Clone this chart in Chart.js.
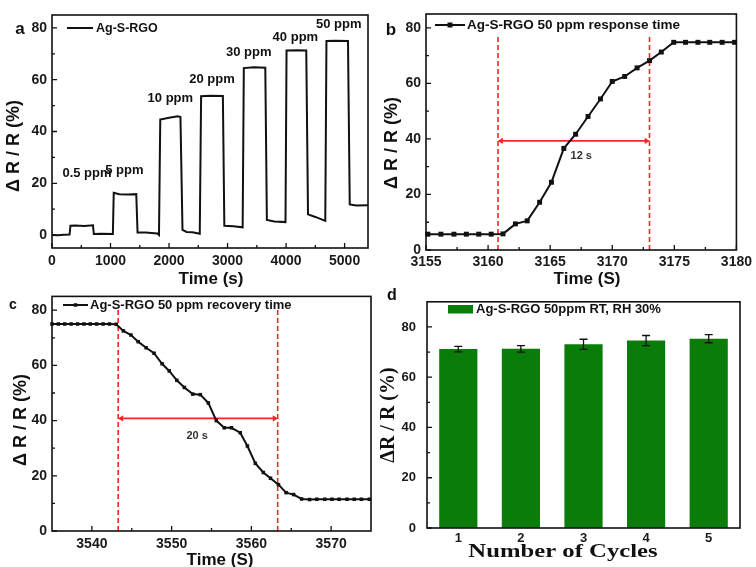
<!DOCTYPE html>
<html>
<head>
<meta charset="utf-8">
<script src="https://cdn.jsdelivr.net/npm/chart.js@4.4.1/dist/chart.umd.min.js"></script>
<style>
    html, body { margin: 0; padding: 0; background: #fff; }
    #fig { position: relative; width: 756px; height: 567px; overflow: hidden; }
    #fig canvas { position: absolute; }
</style>
</head>
<body>
<div id="fig">
    <canvas id="panelA" width="378" height="292" style="left:0;top:0"></canvas>
    <canvas id="panelB" width="378" height="292" style="left:378px;top:0"></canvas>
    <canvas id="panelC" width="378" height="284" style="left:0;top:283px"></canvas>
    <canvas id="panelD" width="378" height="284" style="left:378px;top:283px"></canvas>
</div>
<script>
// === DATEN ===
// (a) Ansprechverhalten bei steigender Konzentration
const aTime = [0, 100, 200, 300, 315, 400, 550, 700, 715, 850, 1040, 1055, 1150, 1300, 1440, 1462, 1600,
    1800, 1828, 1850, 2000, 2150, 2195, 2230, 2300, 2400, 2525, 2548, 2700, 2920, 2945, 3100, 3258,
    3278, 3450, 3645, 3672, 3800, 3990, 4008, 4200, 4345, 4375, 4500, 4670, 4690, 4850, 5058, 5088,
    5200, 5400];
const aResponse = [0.0, -0.1, 0.1, 0.2, 3.6, 3.7, 3.5, 3.8, 0.4, 0.5, 0.4, 16.3, 15.8, 15.7, 15.8, 1.0, 1.0,
    0.6, 0.0, 44.6, 45.3, 45.9, 45.6, 2.0, 1.2, 1.1, 0.5, 53.6, 53.8, 53.7, 3.6, 3.4, 3.0,
    64.5, 64.8, 64.6, 5.8, 5.2, 5.0, 71.3, 71.4, 71.3, 8.0, 7.0, 5.5, 75.0, 75.1, 75.0, 11.8,
    11.4, 11.5];
const aConcLabels = ['0.5 ppm', '5 ppm', '10 ppm', '20 ppm', '30 ppm', '40 ppm', '50 ppm'];
const aTicksX = [0, 1000, 2000, 3000, 4000, 5000];
const aTicksY = [0, 20, 40, 60, 80];

// (b) Ansprechzeit 50 ppm
const bTime = [3155.15, 3156.2, 3157.25, 3158.25, 3159.25, 3160.25, 3161.2, 3162.2, 3163.15, 3164.15,
    3165.1, 3166.1, 3167.05, 3168.05, 3169.05, 3170.0, 3171.0, 3172.0, 3173.0, 3173.95, 3174.95,
    3175.9, 3176.9, 3177.85, 3178.85, 3179.85];
const bResponse = [5.7, 5.7, 5.7, 5.7, 5.7, 5.7, 5.8, 9.4, 10.5, 17.2, 24.4, 36.6, 41.7, 48.1, 54.4,
    60.7, 62.5, 65.6, 68.2, 71.3, 74.8, 74.8, 74.8, 74.8, 74.8, 74.8];
const bWindow = [3160.8, 3173.0];
const bTicksX = [3155, 3160, 3165, 3170, 3175, 3180];
const bTicksY = [0, 20, 40, 60, 80];

// (c) Erholzeit 50 ppm
const cTime = [3535.0, 3535.8, 3536.6, 3537.4, 3538.2, 3539.0, 3539.8, 3540.6, 3541.4, 3542.2,
    3543.05, 3543.95, 3544.9, 3545.8, 3546.8, 3547.8, 3548.8, 3549.7, 3550.65, 3551.6, 3552.65,
    3553.6, 3554.6, 3555.6, 3556.6, 3557.5, 3558.6, 3559.5, 3560.5, 3561.5, 3562.4, 3563.4,
    3564.35, 3565.3, 3566.3, 3567.3, 3568.2, 3569.2, 3570.1, 3571.0, 3572.0, 3572.9, 3573.8, 3574.8];
const cResponse = [75, 75, 75, 75, 75, 75, 75, 75, 75, 75,
    74.9, 72.5, 71.0, 68.6, 66.4, 64.4, 60.6, 58.0, 54.6, 52.0, 49.6,
    49.4, 46.4, 40.0, 37.4, 37.4, 35.6, 30.8, 24.5, 21.2, 19.1, 16.8,
    13.9, 13.2, 11.6, 11.4, 11.5, 11.5, 11.5, 11.5, 11.5, 11.5, 11.5, 11.5];
const cWindow = [3543.3, 3563.3];
const cTicksX = [3540, 3550, 3560, 3570];
const cTicksY = [0, 20, 40, 60, 80];

// (d) Wiederholbarkeit
const cycles = ['1', '2', '3', '4', '5'];
const dMean = [71.2, 71.3, 73.1, 74.6, 75.3];
const dError = [1.1, 1.3, 2.0, 2.0, 1.6];
const dTicksY = [0, 20, 40, 60, 80];

// === STIL ===
const SANS = '"Liberation Sans", Arial, sans-serif';
const SERIF = '"Liberation Serif", "Times New Roman", serif';
const INK = '#111';
const RED = '#ff2424';
const GREEN = '#0a7c0a';

// === DEKOR JE PANEL (Rahmen, Ticks, Legende, Titel) ===
const decor = {
    panelA: {
        xMinor: [500, 1500, 2500, 3500, 4500], yMinor: [10, 30, 50, 70],
        legend: { x: 67, y: 28, len: 26, gap: 3, text: 'Ag-S-RGO', font: `bold 12.5px ${SANS}` },
        notes: [
            { x: 598, y: 23.8 }, { x: 1236, y: 25.1 }, { x: 2022, y: 52.6 }, { x: 2735, y: 60 },
            { x: 3361, y: 70.6 }, { x: 4159, y: 76.5 }, { x: 4900, y: 81.5 }
        ].map((p, i) => ({ ...p, text: aConcLabels[i], font: `bold 13px ${SANS}`, color: INK })),
        xTitle: { text: 'Time (s)', x: 211, y: 279, font: `bold 17px ${SANS}` },
        yTitle: { text: 'Δ R / R (%)', x: 14, y: 146, font: `bold 18px ${SANS}` },
        letter: { text: 'a', x: 20, y: 29, font: `bold 17px ${SANS}` }
    },
    panelB: {
        xMinor: [3157.5, 3162.5, 3167.5, 3172.5, 3177.5], yMinor: [10, 30, 50, 70],
        legend: { x: 57, y: 25, len: 30, gap: 2, marker: 5, text: 'Ag-S-RGO 50 ppm response time', font: `bold 13.5px ${SANS}` },
        notes: [{ x: 3167.5, y: 33.8, text: '12 s', font: `bold 11px ${SANS}`, color: '#333' }],
        xTitle: { text: 'Time (S)', x: 209, y: 279, font: `bold 17px ${SANS}` },
        yTitle: { text: 'Δ R / R (%)', x: 14, y: 143, font: `bold 18px ${SANS}` },
        letter: { text: 'b', x: 13, y: 30, font: `bold 17px ${SANS}` }
    },
    panelC: {
        xMinor: [3545, 3555, 3565], yMinor: [10, 30, 50, 70],
        legend: { x: 63, y: 22, len: 25, gap: 2, marker: 3.5, text: 'Ag-S-RGO 50 ppm recovery time', font: `bold 13px ${SANS}` },
        notes: [{ x: 3553.2, y: 34.4, text: '20 s', font: `bold 11px ${SANS}`, color: '#333' }],
        xTitle: { text: 'Time (S)', x: 220, y: 277, font: `bold 17px ${SANS}` },
        yTitle: { text: 'Δ R / R (%)', x: 21, y: 137, font: `bold 18px ${SANS}` },
        letter: { text: 'c', x: 13, y: 22, font: `bold 14px ${SANS}` }
    },
    panelD: {
        xMinor: null, yMinor: [10, 30, 50, 70],
        errors: dError,
        legend: { x: 70, y: 26, len: 25, gap: 3, swatch: true, text: 'Ag-S-RGO 50ppm RT, RH 30%', font: `bold 13px ${SANS}` },
        notes: [],
        xTitle: { text: 'Number of Cycles', x: 185, y: 269, font: `bold 19px ${SERIF}`, stretch: 1.3 },
        yTitle: { text: 'ΔR / R (%)', x: 11, y: 132, font: `bold 20px ${SERIF}` },
        letter: { text: 'd', x: 14, y: 13, font: `bold 16px ${SANS}` }
    }
};

const figureDecor = {
    id: 'figureDecor',
    afterDatasetsDraw(chart) {
        const o = decor[chart.canvas.id];
        if (!o) return;
        const { ctx, chartArea: ca } = chart;
        const xs = chart.scales.x, ys = chart.scales.y;
        const ds = chart.data.datasets[0];
        ctx.save();

        // Fehlerbalken
        if (o.errors) {
            ctx.strokeStyle = INK;
            ctx.lineWidth = 1.3;
            ctx.beginPath();
            o.errors.forEach((e, i) => {
                const px = xs.getPixelForValue(i);
                const top = ys.getPixelForValue(ds.data[i] + e);
                const bot = ys.getPixelForValue(ds.data[i] - e);
                ctx.moveTo(px, top); ctx.lineTo(px, bot);
                ctx.moveTo(px - 4, top); ctx.lineTo(px + 4, top);
                ctx.moveTo(px - 4, bot); ctx.lineTo(px + 4, bot);
            });
            ctx.stroke();
        }

        // Rahmen
        ctx.strokeStyle = INK;
        ctx.lineWidth = 1.6;
        ctx.strokeRect(ca.left, ca.top, ca.width, ca.height);

        // Ticks nach innen
        ctx.lineWidth = 1.3;
        ctx.beginPath();
        const xTick = (v, len) => { const p = xs.getPixelForValue(v); ctx.moveTo(p, ca.bottom); ctx.lineTo(p, ca.bottom - len); };
        const yTick = (v, len) => { const p = ys.getPixelForValue(v); ctx.moveTo(ca.left, p); ctx.lineTo(ca.left + len, p); };
        if (o.xMinor) {
            xs.ticks.forEach(t => xTick(t.value, 5));
            o.xMinor.forEach(v => xTick(v, 3));
        }
        ys.ticks.forEach(t => yTick(t.value, 5));
        o.yMinor.forEach(v => yTick(v, 3));
        ctx.stroke();

        // Legende
        const L = o.legend;
        if (L.swatch) {
            ctx.fillStyle = ds.backgroundColor;
            ctx.fillRect(L.x, L.y - 4, L.len, 8.5);
        } else {
            ctx.strokeStyle = ds.borderColor;
            ctx.lineWidth = ds.borderWidth;
            ctx.beginPath();
            ctx.moveTo(L.x, L.y); ctx.lineTo(L.x + L.len, L.y);
            ctx.stroke();
            if (L.marker) {
                ctx.fillStyle = ds.borderColor;
                ctx.fillRect(L.x + L.len / 2 - L.marker / 2, L.y - L.marker / 2, L.marker, L.marker);
            }
        }
        ctx.font = L.font;
        ctx.fillStyle = INK;
        ctx.textAlign = 'left';
        ctx.textBaseline = 'middle';
        ctx.fillText(L.text, L.x + L.len + L.gap, L.y + 0.5);

        // Beschriftungen in Datenkoordinaten
        ctx.textAlign = 'center';
        o.notes.forEach(n => {
            ctx.font = n.font;
            ctx.fillStyle = n.color;
            ctx.fillText(n.text, xs.getPixelForValue(n.x), ys.getPixelForValue(n.y));
        });

        // Achsentitel
        ctx.fillStyle = INK;
        const t = o.xTitle;
        ctx.save();
        ctx.translate(t.x, t.y);
        ctx.scale(t.stretch || 1, 1);
        ctx.font = t.font;
        ctx.fillText(t.text, 0, 0);
        ctx.restore();

        const u = o.yTitle;
        ctx.save();
        ctx.translate(u.x, u.y);
        ctx.rotate(-Math.PI / 2);
        ctx.font = u.font;
        ctx.fillText(u.text, 0, 0);
        ctx.restore();

        // Panel-Buchstabe
        ctx.font = o.letter.font;
        ctx.fillText(o.letter.text, o.letter.x, o.letter.y);

        ctx.restore();
    }
};
Chart.register(figureDecor);

// === ACHSEN-HELFER ===
function linearAxis(min, max, majors, fitSize, pad, fontSize) {
    return {
        type: 'linear', min, max,
        grid: { display: false, drawTicks: false },
        border: { display: false },
        ticks: {
            autoSkip: false, maxRotation: 0, padding: pad, color: '#1a1a1a',
            font: { family: SANS, size: fontSize, weight: 'bold' },
            callback: v => String(v)
        },
        afterBuildTicks: s => { s.ticks = majors.map(v => ({ value: v })); },
        afterFit: s => { if (s.isHorizontal()) s.height = fitSize; else s.width = fitSize; }
    };
}

function makeOptions(top, right, x, y) {
    return {
        responsive: false,
        animation: false,
        layout: { padding: { left: 0, bottom: 0, top, right } },
        plugins: { legend: { display: false }, tooltip: { enabled: false } },
        scales: { x, y }
    };
}

const toPoints = (xs, ys) => xs.map((x, i) => ({ x, y: ys[i] }));

function guide(x, yTop) {
    return { data: [{ x, y: 0 }, { x, y: yTop }], borderColor: RED, borderWidth: 1.6, borderDash: [5, 3], pointRadius: 0 };
}

function arrow(x1, x2, y) {
    return {
        data: [{ x: x1, y }, { x: x2, y }], borderColor: RED, borderWidth: 1.6,
        pointStyle: 'triangle', pointRadius: 3.5, pointRotation: [270, 90],
        pointBackgroundColor: RED, pointBorderColor: RED, pointBorderWidth: 0
    };
}

// === CHARTS ===
new Chart(document.getElementById('panelA'), {
    type: 'line',
    data: { datasets: [{ data: toPoints(aTime, aResponse), borderColor: INK, borderWidth: 2, pointRadius: 0, tension: 0 }] },
    options: makeOptions(15, 10,
        linearAxis(0, 5400, aTicksX, 44, 5, 14),
        linearAxis(-5, 85, aTicksY, 52, 5, 14))
});

new Chart(document.getElementById('panelB'), {
    type: 'line',
    data: {
        datasets: [
            { data: toPoints(bTime, bResponse), borderColor: INK, backgroundColor: INK, borderWidth: 2,
              pointStyle: 'rect', pointRadius: 3.5, pointBorderWidth: 0, tension: 0, clip: false },
            guide(bWindow[0], 77),
            guide(bWindow[1], 77),
            arrow(bWindow[0] + 0.25, bWindow[1] - 0.25, 39.3)
        ]
    },
    options: makeOptions(14, 15,
        linearAxis(3155, 3180, bTicksX, 42, 4, 14),
        linearAxis(0, 85, bTicksY, 48, 5, 14))
});

new Chart(document.getElementById('panelC'), {
    type: 'line',
    data: {
        datasets: [
            { data: toPoints(cTime, cResponse), borderColor: INK, backgroundColor: INK, borderWidth: 2,
              pointStyle: 'rect', pointRadius: 2.5, pointBorderWidth: 0, tension: 0, clip: false },
            guide(cWindow[0], 81),
            guide(cWindow[1], 81),
            arrow(cWindow[0] + 0.4, cWindow[1] - 0.4, 40.8)
        ]
    },
    options: makeOptions(12, 7,
        linearAxis(3535, 3575, cTicksX, 36, 5, 14),
        linearAxis(0, 85, cTicksY, 52, 5, 14))
});

new Chart(document.getElementById('panelD'), {
    type: 'bar',
    data: {
        labels: cycles,
        datasets: [{ data: dMean, backgroundColor: GREEN, borderWidth: 0, barPercentage: 0.61, categoryPercentage: 1 }]
    },
    options: makeOptions(10, 16,
        {
            type: 'category', offset: true,
            grid: { display: false, drawTicks: false },
            border: { display: false },
            ticks: { padding: 3, color: '#1a1a1a', font: { family: SANS, size: 13, weight: 'bold' } },
            afterFit: s => { s.height = 39; }
        },
        linearAxis(0, 90, dTicksY, 49, 11, 13))
});
</script>
</body>
</html>
